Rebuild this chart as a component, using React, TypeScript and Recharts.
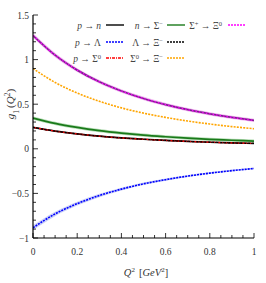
import React from "react";
import { ComposedChart, Line, Area, XAxis, YAxis } from "recharts";

const q = [0, 0.1, 0.2, 0.3, 0.4, 0.5, 0.6, 0.7, 0.8, 0.9, 1.0];
const pToN = [0.24, 0.198, 0.167, 0.142, 0.122, 0.107, 0.094, 0.083, 0.074, 0.066, 0.06];
const pToLambda = [-0.885, -0.73, -0.615, -0.524, -0.452, -0.393, -0.346, -0.306, -0.273, -0.245, -0.221];
const pToLambdaLo = [-0.912, -0.755, -0.637, -0.543, -0.468, -0.407, -0.358, -0.317, -0.283, -0.254, -0.229];
const pToLambdaHi = [-0.858, -0.705, -0.593, -0.505, -0.436, -0.379, -0.334, -0.295, -0.263, -0.236, -0.213];
const pToSigma0 = [0.24, 0.198, 0.167, 0.142, 0.122, 0.107, 0.094, 0.083, 0.074, 0.066, 0.06];
const nToSigmaM = [0.345, 0.285, 0.24, 0.204, 0.176, 0.153, 0.135, 0.119, 0.106, 0.096, 0.086];
const lambdaToXiM = [0.24, 0.198, 0.167, 0.142, 0.122, 0.107, 0.094, 0.083, 0.074, 0.066, 0.06];
const sigma0ToXiM = [0.9, 0.744, 0.625, 0.533, 0.459, 0.4, 0.352, 0.311, 0.278, 0.249, 0.225];
const sigmaPToXi0 = [1.27, 1.05, 0.882, 0.751, 0.648, 0.564, 0.496, 0.439, 0.392, 0.352, 0.318];

const xTicks = [0, 0.05, 0.1, 0.15, 0.2, 0.25, 0.3, 0.35, 0.4, 0.45, 0.5, 0.55, 0.6, 0.65, 0.7, 0.75, 0.8, 0.85, 0.9, 0.95, 1];
const xMajor = [0, 0.2, 0.4, 0.6, 0.8, 1];
const yTicks = [-1, -0.9, -0.8, -0.7, -0.6, -0.5, -0.4, -0.3, -0.2, -0.1, 0, 0.1, 0.2, 0.3, 0.4, 0.5, 0.6, 0.7, 0.8, 0.9, 1, 1.1, 1.2, 1.3, 1.4, 1.5];
const yMajor = [-1, -0.5, 0, 0.5, 1, 1.5];

const data = q.map((v, i) => ({
  q: v,
  pn: pToN[i],
  pl: pToLambda[i],
  plBand: [pToLambdaLo[i], pToLambdaHi[i]],
  ps: pToSigma0[i],
  ns: nToSigmaM[i],
  lx: lambdaToXiM[i],
  sx: sigma0ToXiM[i],
  spx: sigmaPToXi0[i],
}));

const FONT = "'Liberation Serif', 'DejaVu Serif', serif";
const fmt = (v: number) => (v < 0 ? "\u2212" + Math.abs(v) : String(v));
const isMaj = (arr: number[], v: number) => arr.some((m) => Math.abs(m - v) < 1e-9);

const XTickBottom = (p: any) => {
  const { x, y, payload } = p;
  const major = isMaj(xMajor, payload.value);
  return (
    <g>
      <line x1={x} x2={x} y1={y} y2={y - (major ? 5 : 3)} stroke="#000" strokeWidth={0.8} />
      {major && (
        <text x={x} y={y + 17} textAnchor="middle" fontSize={9.5} fontFamily={FONT} fill="#333">
          {fmt(payload.value)}
        </text>
      )}
    </g>
  );
};
const XTickTop = (p: any) => {
  const { x, y, payload } = p;
  const major = isMaj(xMajor, payload.value);
  return <line x1={x} x2={x} y1={y} y2={y + (major ? 5 : 3)} stroke="#000" strokeWidth={0.8} />;
};
const YTickLeft = (p: any) => {
  const { x, y, payload } = p;
  const major = isMaj(yMajor, payload.value);
  return (
    <g>
      <line x1={x} x2={x + (major ? 5 : 3)} y1={y} y2={y} stroke="#000" strokeWidth={0.8} />
      {major && (
        <text x={x - 4} y={y + 3.5} textAnchor="end" fontSize={9.5} fontFamily={FONT} fill="#333">
          {fmt(payload.value)}
        </text>
      )}
    </g>
  );
};
const YTickRight = (p: any) => {
  const { x, y, payload } = p;
  const major = isMaj(yMajor, payload.value);
  return <line x1={x} x2={x - (major ? 5 : 3)} y1={y} y2={y} stroke="#000" strokeWidth={0.8} />;
};

type LegItem = { parts: React.ReactNode; stroke: string; dash?: string; width?: number };

const it = (s: string) => <tspan fontStyle="italic">{s}</tspan>;
const sup = (s: string) => (
  <tspan baselineShift="super" fontSize={6.5}>
    {s}
  </tspan>
);

const legendCols: { textEnd: number; lineStart: number; lineEnd: number; items: LegItem[] }[] = [
  {
    textEnd: 101,
    lineStart: 106,
    lineEnd: 124,
    items: [
      { parts: <>{it("p")} → {it("n")}</>, stroke: "#000" },
      { parts: <>{it("p")} → Λ</>, stroke: "#0000ff", dash: "2 1" },
      { parts: <>{it("p")} → Σ{sup("0")}</>, stroke: "#ff0000", dash: "3 1 1 1" },
    ],
  },
  {
    textEnd: 163,
    lineStart: 167,
    lineEnd: 185,
    items: [
      { parts: <>{it("n")} → Σ{sup("−")}</>, stroke: "#1a7a1a" },
      { parts: <>Λ → Ξ{sup("−")}</>, stroke: "#000", dash: "2 1" },
      { parts: <>Σ{sup("0")} → Ξ{sup("−")}</>, stroke: "#ffa500", dash: "2 1" },
    ],
  },
  {
    textEnd: 222,
    lineStart: 228,
    lineEnd: 245,
    items: [{ parts: <>Σ{sup("+")} → Ξ{sup("0")}</>, stroke: "#ff00ff", dash: "2 1" }],
  },
];
const rowY = [25, 42, 58];

export default function App() {
  return (
    <div style={{ position: "absolute", left: 0, top: 0, width: 266, height: 283, background: "#fff" }}>
      <ComposedChart width={266} height={283} data={data} margin={{ top: 15, right: 12, bottom: 0, left: 0 }}>
        <XAxis
          type="number"
          dataKey="q"
          domain={[0, 1]}
          ticks={xTicks}
          interval={0}
          tickSize={0}
          tickMargin={0}
          height={45}
          tick={<XTickBottom />}
          axisLine={{ stroke: "#000", strokeWidth: 1.2 }}
          allowDataOverflow
        />
        <XAxis
          xAxisId="top"
          orientation="top"
          type="number"
          dataKey="q"
          domain={[0, 1]}
          ticks={xTicks}
          interval={0}
          tickSize={0}
          tickMargin={0}
          height={0}
          tick={<XTickTop />}
          axisLine={{ stroke: "#000", strokeWidth: 1.2 }}
        />
        <YAxis
          type="number"
          domain={[-1, 1.5]}
          ticks={yTicks}
          interval={0}
          tickSize={0}
          tickMargin={0}
          width={33}
          tick={<YTickLeft />}
          axisLine={{ stroke: "#000", strokeWidth: 1.2 }}
          allowDataOverflow
        />
        <YAxis
          yAxisId="r"
          orientation="right"
          type="number"
          domain={[-1, 1.5]}
          ticks={yTicks}
          interval={0}
          tickSize={0}
          tickMargin={0}
          width={0}
          tick={<YTickRight />}
          axisLine={{ stroke: "#000", strokeWidth: 1.2 }}
        />
        <Area type="monotone" dataKey="plBand" stroke="none" fill="#a9b2f2" fillOpacity={0.6} isAnimationActive={false} />
        <Line type="monotone" dataKey="spx" stroke="#f3b6f3" strokeWidth={3.4} dot={false} isAnimationActive={false} />
        <Line type="monotone" dataKey="spx" stroke="#7e1f8f" strokeWidth={1.8} dot={false} isAnimationActive={false} />
        <Line type="monotone" dataKey="spx" stroke="#ff00ff" strokeWidth={1.2} strokeDasharray="1.5 2" dot={false} isAnimationActive={false} />
        <Line type="monotone" dataKey="sx" stroke="#ffa500" strokeWidth={1.6} strokeDasharray="2 1.2" dot={false} isAnimationActive={false} />
        <Line type="monotone" dataKey="ns" stroke="#b8deb8" strokeWidth={3.2} dot={false} isAnimationActive={false} />
        <Line type="monotone" dataKey="ns" stroke="#1a7a1a" strokeWidth={1.7} dot={false} isAnimationActive={false} />
        <Line type="monotone" dataKey="pn" stroke="#000" strokeWidth={1.6} dot={false} isAnimationActive={false} />
        <Line type="monotone" dataKey="ps" stroke="#ff0000" strokeWidth={1.3} strokeDasharray="3 1 1 1" dot={false} isAnimationActive={false} />
        <Line type="monotone" dataKey="lx" stroke="#000" strokeWidth={1.2} strokeDasharray="2 2" dot={false} isAnimationActive={false} />
        <Line type="monotone" dataKey="pl" stroke="#0000ff" strokeWidth={1.6} strokeDasharray="2 1" dot={false} isAnimationActive={false} />
      </ComposedChart>
      <svg width={266} height={283} style={{ position: "absolute", left: 0, top: 0, pointerEvents: "none" }}>
        {legendCols.map((col, ci) =>
          col.items.map((item, ri) => (
            <g key={ci + "-" + ri}>
              <text
                x={col.textEnd}
                y={rowY[ri] + 3.5}
                textAnchor="end"
                fontSize={9.5}
                fontFamily={FONT}
                fill="#444"
              >
                {item.parts}
              </text>
              <line
                x1={col.lineStart}
                x2={col.lineEnd}
                y1={rowY[ri]}
                y2={rowY[ri]}
                stroke={item.stroke}
                strokeWidth={1.4}
                strokeDasharray={item.dash}
              />
            </g>
          ))
        )}
        <text
          transform="translate(14,104) rotate(-90)"
          textAnchor="middle"
          fontSize={11}
          fontFamily={FONT}
          fill="#333"
        >
          <tspan fontStyle="italic">g</tspan>
          <tspan baselineShift="sub" fontSize={7.5}>1</tspan>
          <tspan dx={2}>(</tspan>
          <tspan fontStyle="italic">Q</tspan>
          <tspan baselineShift="super" fontSize={7.5}>2</tspan>
          <tspan>)</tspan>
        </text>
        <text x={146} y={276} textAnchor="middle" fontSize={10.5} fontFamily={FONT} fill="#333">
          <tspan fontStyle="italic">Q</tspan>
          <tspan baselineShift="super" fontSize={7}>2</tspan>
          <tspan dx={4}>[</tspan>
          <tspan fontStyle="italic">GeV</tspan>
          <tspan baselineShift="super" fontSize={7}>2</tspan>
          <tspan>]</tspan>
        </text>
      </svg>
    </div>
  );
}
